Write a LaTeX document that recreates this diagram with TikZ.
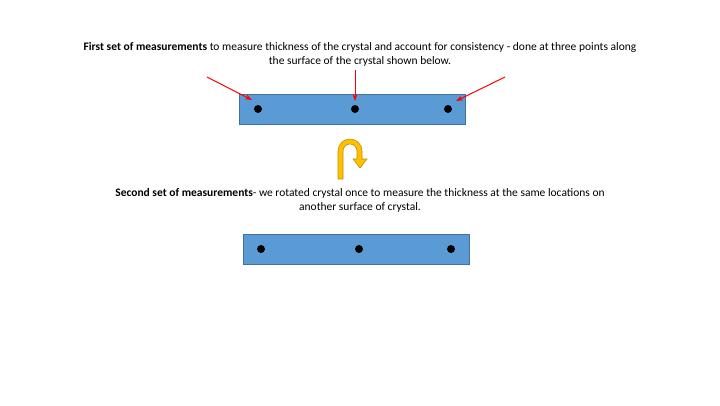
\documentclass[tikz,border=0pt]{standalone}
\usepackage{fontspec}
\setmainfont{Carlito}
\usetikzlibrary{arrows.meta}
\definecolor{cryfill}{RGB}{91,155,213}
\definecolor{cryline}{RGB}{65,113,156}
\definecolor{ufill}{RGB}{255,192,0}
\definecolor{uline}{RGB}{191,144,0}
\begin{document}
\begin{tikzpicture}[x=1pt,y=-1pt,
  crystal/.style={draw=cryline,fill=cryfill,line width=0.8pt},
  pt/.style={circle,fill=black,inner sep=0pt,minimum size=8pt},
  redarrow/.style={draw=red,line width=1pt,-{Stealth[length=7pt,width=5pt]}},
  uturn/.style={fill=ufill,draw=uline,line width=0.6pt},
  txt/.style={font=\fontsize{11.5}{14}\selectfont,align=center}]
\useasboundingbox (0,0) rectangle (720,405);
\node[txt] (t1) at (360,54) {\textbf{First set of measurements} to measure thickness of the crystal and account for consistency - done at three points along\\the surface of the crystal shown below.};
\node[crystal,minimum width=226pt,minimum height=30pt,inner sep=0pt] (c1) at (352,109) {};
\node[pt] (a1) at (258,109) {};
\node[pt] (a2) at (355,109) {};
\node[pt] (a3) at (448,109) {};
\coordinate (s1) at (207,77);
\coordinate (s2) at (355,70);
\coordinate (s3) at (505,77);
\coordinate (e1) at (252,100);
\coordinate (e2) at (355,101);
\coordinate (e3) at (456,101);
\draw[redarrow] (s1) -- (e1);
\draw[redarrow] (s2) -- (e2);
\draw[redarrow] (s3) -- (e3);
\node[txt] (t2) at (360,200) {\textbf{Second set of measurements}- we rotated crystal once to measure the thickness at the same locations on\\another surface of crystal.};
\node[crystal,minimum width=226pt,minimum height=30pt,inner sep=0pt] (c2) at (356,249) {};
\node[pt] (b1) at (261,249) {};
\node[pt] (b2) at (359,249) {};
\node[pt] (b3) at (451,249) {};
\path[uturn]
  (338,179) -- (338,151) arc[start angle=180,end angle=360,radius=12] -- (362,159) -- (367,159) -- (360,168) -- (353,159) -- (357,159) -- (357,151) arc[start angle=0,end angle=-180,radius=7] -- (343,179) -- cycle;
\end{tikzpicture}
\end{document}
